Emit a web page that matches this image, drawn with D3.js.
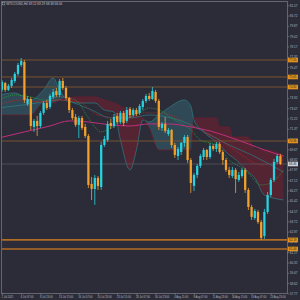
<!DOCTYPE html>
<html>
<head>
<meta charset="utf-8">
<script src="https://cdnjs.cloudflare.com/ajax/libs/d3/7.8.5/d3.min.js"></script>
<style>
html, body { margin: 0; padding: 0; background: #2c2c38; }
#graphicContainer { width: 300px; height: 300px; }
</style>
</head>
<body>
<div id="graphicContainer"></div>
<script>
// H4 candles
var opens = [74.58,75.15,74.58,74.91,75.32,75.90,76.64,76.89,73.42,73.83,
	71.52,72.02,71.60,72.68,73.50,73.17,74.00,74.49,74.16,75.32,
	74.74,73.92,72.92,72.35,71.69,72.26,71.52,70.78,66.81,66.40,
	67.31,66.56,70.03,70.45,71.85,71.60,72.43,71.93,72.68,72.02,
	73.01,72.51,72.92,72.68,73.17,73.67,74.08,73.83,74.41,73.67,
	71.44,71.77,70.94,71.27,70.03,69.12,69.45,70.20,70.69,68.79,
	66.65,67.56,68.30,69.04,69.62,69.04,69.95,69.70,70.12,69.45,
	68.79,67.97,67.47,67.97,67.14,67.47,67.97,66.32,64.91,64.00,
	64.50,63.67,62.52,64.50,65.90,67.14,68.63,69.12]
var highs = [75.40,75.24,75.07,75.57,76.06,76.81,77.22,77.05,74.08,74.00,
	72.18,72.43,72.84,73.67,73.75,74.25,74.66,74.74,75.48,75.57,
	74.91,74.00,73.09,72.59,72.43,72.43,71.77,70.94,67.39,67.56,
	67.47,70.28,70.78,72.02,72.18,72.59,72.68,72.84,72.84,73.17,
	73.17,73.09,73.09,73.42,73.83,74.25,74.33,74.82,74.58,73.83,
	71.93,72.35,71.44,71.35,70.20,69.87,70.28,70.86,70.86,68.96,
	67.72,68.46,69.29,69.79,69.70,70.20,70.12,70.28,70.28,69.62,
	68.96,68.22,68.22,68.13,67.80,68.13,68.13,66.48,65.08,64.75,
	64.66,63.84,64.75,66.15,67.31,68.88,69.29,69.29]
var lows = [74.41,74.41,74.49,74.74,75.15,75.73,76.48,73.50,73.25,71.27,
	71.11,70.78,71.44,72.51,72.92,73.01,73.83,74.00,74.00,74.58,
	73.75,72.68,72.10,71.52,70.61,71.27,70.61,66.48,65.49,65.08,
	66.32,66.32,69.87,70.28,71.35,71.44,71.77,71.77,71.60,71.85,
	72.26,72.35,72.43,72.51,72.92,73.50,73.67,73.75,73.50,71.27,
	71.19,71.02,70.78,69.79,68.96,68.79,69.21,69.87,68.55,66.07,
	66.23,67.31,68.13,68.79,68.79,68.88,69.54,69.45,69.29,68.38,
	67.80,67.31,67.31,66.07,66.98,67.31,66.07,64.66,63.84,63.84,
	63.51,62.19,62.27,64.33,65.74,66.98,68.46,68.38]
var closes = [75.24,74.58,74.91,75.40,75.90,76.64,76.97,73.75,73.83,71.60,
	72.02,71.60,72.68,73.50,73.09,74.08,74.41,74.16,75.32,74.74,
	73.92,72.92,72.26,71.69,72.26,71.44,70.78,66.73,66.40,67.31,
	66.65,70.03,70.53,71.77,71.60,72.35,71.93,72.68,71.85,72.92,
	72.51,72.92,72.59,73.25,73.67,74.08,73.83,74.49,73.67,71.52,
	71.77,71.19,71.27,70.03,69.21,69.70,70.20,70.69,68.79,66.89,
	67.56,68.30,69.12,69.62,69.04,69.95,69.70,70.12,69.45,68.79,
	67.97,67.56,67.97,67.22,67.56,67.97,66.32,64.91,64.09,64.58,
	63.67,62.35,64.50,65.90,67.14,68.63,69.12,68.46]

// ichimoku cloud edges (bar index, price)
var cloudIdx = [-1,4,9,13,16,18,20,24,29,32,35,37,40,42,44,46,49,52,57,59,60,63,67,68,71,72,77,79,82,88]
var spanA = [74.16,74.33,73.75,74.58,75.57,74.58,73.83,73.50,73.50,72.92,
	72.76,70.45,67.97,69.62,72.10,71.93,72.51,73.09,73.75,73.25,
	72.10,71.11,70.28,70.03,69.21,69.04,67.80,67.31,65.90,65.49]
var spanB = [72.51,72.51,72.51,73.50,73.50,73.75,73.92,74.00,74.00,73.75,
	73.50,73.25,72.92,72.51,72.26,71.44,69.62,69.62,69.62,69.62,
	72.26,72.26,72.26,71.52,71.52,70.69,70.69,69.62,69.62,69.21]

// moving averages (bar index, price)
var magentaIdx = [-1,7,15,21,27,34,40,46,52,59,65,71,77,82,88]
var magentaVal = [70.61,71.11,71.60,72.02,71.93,71.69,71.60,71.77,71.77,71.52,71.19,70.69,70.12,69.62,69.12]
var greenIdx = [-1,4,9,13,18,23,27,31,34,38,43,46,49,54,59,62,67,71,76,81,84,88]
var greenVal = [73.75,74.16,74.00,73.75,74.00,73.75,72.26,71.11,71.44,72.10,72.68,73.09,72.92,72.10,71.27,70.45,70.03,68.79,67.97,66.73,66.89,67.97]
var redIdx = [-1,6,12,18,24,30,37,43,49,56,62,68,74,81,88]
var redVal = [73.34,73.75,73.59,73.75,73.59,72.51,72.26,72.68,72.68,72.10,71.27,70.45,69.37,68.38,68.79]
var tealIdx = [-1,9,18,28,34,40,46,53,59,65,71,78,84,88]
var tealVal = [73.09,73.42,73.75,72.92,72.26,72.26,72.51,72.26,71.69,70.86,70.03,69.21,68.38,67.80]

// horizontal levels
var upperLevels = [77.05, 75.65, 74.82, 70.36]
var lowerLevels = [62.19, 61.44]

// axis labels
var priceTicks = [81.57,80.72,79.87,79.02,78.17,77.32,76.47,75.62,74.77,73.92,73.07,72.22,71.37,70.52,69.67,68.82,67.97,67.12,66.27,65.42,64.57,63.72,62.87,62.02,61.17,60.32,59.47,58.62,57.77]
var timeIdx = [0,6,12,18,24,30,36,42,48,54,60,66,72,78,84]
var timeLabels = ["1 Jul 2021","6 Jul 07:00","8 Jul 23:00","13 Jul 15:00","16 Jul 07:00","20 Jul 23:00","23 Jul 15:00","28 Jul 07:00","30 Jul 23:00","4 Aug 15:00","9 Aug 07:00","11 Aug 23:00","16 Aug 15:00","19 Aug 07:00","23 Aug 23:00"]
var symbol = "WTICOUSD,H4"

function init() {
	var width = 300, height = 300
	var plot = {left: 1.5, top: 1.5, right: 287.5, bottom: 293.5}
	var bg = "#2c2c38"
	var upColour = "#27d3e0"
	var downColour = "#f4a12a"
	var font = "'Liberation Sans', Arial, sans-serif"

	d3.select("#graphicContainer svg").remove()

	var svg = d3.select("#graphicContainer").append("svg")
		.attr("width", width)
		.attr("height", height)

	svg.append("rect").attr("width", width).attr("height", height).attr("fill", bg)

	var x = d3.scaleLinear().domain([0, 87]).range([2, 280.4])
	var y = d3.scaleLinear().domain([57.77, 81.57]).range([293.4, 5.3])

	var defs = svg.append("defs")
	defs.append("clipPath").attr("id", "plotClip").append("rect")
		.attr("x", plot.left).attr("y", plot.top)
		.attr("width", plot.right - plot.left).attr("height", plot.bottom - plot.top)

	var cloud = cloudIdx.map(function(d, i) { return {i: d, a: spanA[i], b: spanB[i]} })
	var curve = d3.curveMonotoneX

	defs.append("clipPath").attr("id", "aboveB").append("path")
		.attr("d", d3.area().curve(curve).x(function(d) { return x(d.i) }).y0(0).y1(function(d) { return y(d.b) })(cloud))
	defs.append("clipPath").attr("id", "belowB").append("path")
		.attr("d", d3.area().curve(curve).x(function(d) { return x(d.i) }).y0(function(d) { return y(d.b) }).y1(height)(cloud))

	var features = svg.append("g").attr("clip-path", "url(#plotClip)")

	// cloud
	var band = d3.area().curve(curve)
		.x(function(d) { return x(d.i) })
		.y0(function(d) { return y(d.b) })
		.y1(function(d) { return y(d.a) })

	features.append("g").attr("clip-path", "url(#aboveB)")
		.append("path").attr("d", band(cloud))
		.attr("fill", "#3a9aa4").attr("fill-opacity", 0.28)
	features.append("g").attr("clip-path", "url(#belowB)")
		.append("path").attr("d", band(cloud))
		.attr("fill", "#8e1b2e").attr("fill-opacity", 0.42)

	var edge = function(key) {
		return d3.line().curve(curve).x(function(d) { return x(d.i) }).y(function(d) { return y(d[key]) })
	}
	features.append("path").attr("d", edge("a")(cloud))
		.attr("fill", "none").attr("stroke", "#2e7f88").attr("stroke-width", 0.7)
	features.append("path").attr("d", edge("b")(cloud))
		.attr("fill", "none").attr("stroke", "#6e1c2c").attr("stroke-width", 0.7)

	// levels
	features.selectAll(".upper").data(upperLevels).enter().append("line")
		.attr("class", "upper")
		.attr("x1", plot.left).attr("x2", plot.right)
		.attr("y1", function(d) { return y(d) }).attr("y2", function(d) { return y(d) })
		.attr("stroke", "#76532f").attr("stroke-width", 1)

	features.selectAll(".lower").data(lowerLevels).enter().append("line")
		.attr("class", "lower")
		.attr("x1", plot.left).attr("x2", plot.right)
		.attr("y1", function(d) { return y(d) }).attr("y2", function(d) { return y(d) })
		.attr("stroke", "#b06b24").attr("stroke-width", 1.6)

	var last = closes.length - 1
	features.append("line")
		.attr("x1", plot.left).attr("x2", plot.right)
		.attr("y1", y(closes[last])).attr("y2", y(closes[last]))
		.attr("stroke", "#55555f").attr("stroke-width", 0.8)

	// moving averages
	var maLine = d3.line()
		.x(function(d) { return x(d[0]) })
		.y(function(d) { return y(d[1]) })
		.curve(d3.curveMonotoneX)

	function drawMA(idx, vals, colour, dash, w) {
		var pts = idx.map(function(d, i) { return [d, vals[i]] })
		features.append("path").attr("d", maLine(pts))
			.attr("fill", "none").attr("stroke", colour)
			.attr("stroke-width", w)
			.attr("stroke-dasharray", dash)
	}

	drawMA(tealIdx, tealVal, "#2a8c94", null, 0.6)
	drawMA(redIdx, redVal, "#b02c2c", "1,1", 0.8)
	drawMA(greenIdx, greenVal, "#2f9d3c", "1,1", 0.8)
	drawMA(magentaIdx, magentaVal, "#c02f7c", null, 1)

	// candles
	var bars = closes.map(function(c, i) {
		return {i: i, o: opens[i], h: highs[i], l: lows[i], c: c}
	})
	var bodyW = (x(1) - x(0)) * 0.7

	features.selectAll(".wick").data(bars).enter().append("line")
		.attr("class", "wick")
		.attr("x1", function(d) { return x(d.i) })
		.attr("x2", function(d) { return x(d.i) })
		.attr("y1", function(d) { return y(d.h) })
		.attr("y2", function(d) { return y(d.l) })
		.attr("stroke", function(d) { return d.c >= d.o ? upColour : downColour })
		.attr("stroke-width", 0.8)

	features.selectAll(".body").data(bars).enter().append("rect")
		.attr("class", "body")
		.attr("x", function(d) { return x(d.i) - bodyW / 2 })
		.attr("y", function(d) { return y(Math.max(d.o, d.c)) })
		.attr("width", bodyW)
		.attr("height", function(d) { return Math.max(0.7, Math.abs(y(d.o) - y(d.c))) })
		.attr("fill", function(d) { return d.c >= d.o ? upColour : downColour })

	// frame
	svg.append("rect")
		.attr("x", plot.left).attr("y", plot.top)
		.attr("width", plot.right - plot.left).attr("height", plot.bottom - plot.top)
		.attr("fill", "none").attr("stroke", "#74747e").attr("stroke-width", 0.8)

	// axes
	var yAxis = d3.axisRight(y).tickValues(priceTicks).tickFormat(d3.format(".2f"))
		.tickSize(1.5).tickSizeOuter(0).tickPadding(0.8)
	var gy = svg.append("g").attr("transform", "translate(" + plot.right + ",0)").call(yAxis)
	gy.select(".domain").remove()
	gy.selectAll("line").attr("stroke", "#8a8a94").attr("stroke-width", 0.6)
	gy.selectAll("text").attr("fill", "#b8b8c0").attr("font-size", 3).attr("font-family", font)

	var xAxis = d3.axisBottom(x).tickValues(timeIdx)
		.tickFormat(function(d, i) { return timeLabels[i] })
		.tickSize(1.5).tickSizeOuter(0).tickPadding(0.8)
	var gx = svg.append("g").attr("transform", "translate(0," + plot.bottom + ")").call(xAxis)
	gx.select(".domain").remove()
	gx.selectAll("line").attr("stroke", "#8a8a94").attr("stroke-width", 0.6)
	gx.selectAll("text").attr("fill", "#b8b8c0").attr("font-size", 2.6).attr("font-family", font)
		.attr("text-anchor", "start").attr("dx", -1)

	// level tags on the price scale
	var tags = svg.append("g")
	var allLevels = upperLevels.concat(lowerLevels)
	tags.selectAll(".tag").data(allLevels).enter().append("rect")
		.attr("class", "tag")
		.attr("x", plot.right + 0.5).attr("y", function(d) { return y(d) - 2.3 })
		.attr("width", 10).attr("height", 4.6)
		.attr("fill", "#e4911e")
	tags.selectAll(".tagText").data(allLevels).enter().append("text")
		.attr("class", "tagText")
		.attr("x", plot.right + 1.5).attr("y", function(d) { return y(d) })
		.attr("dy", "0.35em")
		.attr("fill", "#3a2a14").attr("font-size", 3).attr("font-family", font)
		.text(function(d) { return d3.format(".2f")(d) })

	tags.append("rect")
		.attr("x", plot.right + 0.5).attr("y", y(closes[last]) - 2.3)
		.attr("width", 10).attr("height", 4.6).attr("fill", "#cfcfd6")
	tags.append("text")
		.attr("x", plot.right + 1.5).attr("y", y(closes[last])).attr("dy", "0.35em")
		.attr("fill", "#2c2c38").attr("font-size", 3).attr("font-family", font)
		.text(d3.format(".2f")(closes[last]))

	// header
	svg.append("rect").attr("x", 2.5).attr("y", 2.5).attr("width", 2.4).attr("height", 2.4)
		.attr("fill", "none").attr("stroke", "#a8a8b0").attr("stroke-width", 0.5)
	svg.append("text")
		.attr("x", 6.2).attr("y", 4.8)
		.attr("fill", "#c2c2ca").attr("font-size", 3.1).attr("font-family", font)
		.text(symbol + "  " + [opens[last], highs[last], lows[last], closes[last]].map(d3.format(".2f")).join(" "))
}

init()
</script>
</body>
</html>
